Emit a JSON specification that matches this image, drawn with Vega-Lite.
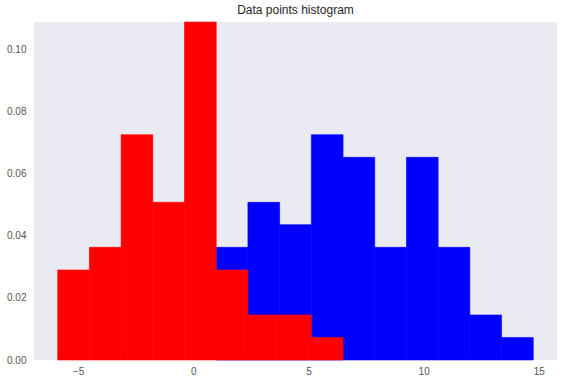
{
  "$schema": "https://vega.github.io/schema/vega-lite/v6.json",
  "width": 523,
  "height": 338,
  "autosize": {"type": "none"},
  "padding": {"left": 34, "top": 22, "right": 7, "bottom": 24},
  "background": "white",
  "title": {"text": "Data points histogram", "fontSize": 12, "font": "Liberation Sans", "fontWeight": "normal", "color": "#262626", "offset": 5, "anchor": "middle"},
  "config": {
    "view": {"stroke": null, "fill": "#EAEAF2"},
    "axis": {"domain": false, "ticks": false, "grid": false, "labelFont": "Liberation Sans", "labelFontSize": 10, "labelColor": "#555555", "title": null}
  },
  "data": {"values": [
    {"series": "blue", "bin_start": 0.993, "bin_end": 2.369, "density": 0.0363},
    {"series": "blue", "bin_start": 2.369, "bin_end": 3.746, "density": 0.0508},
    {"series": "blue", "bin_start": 3.746, "bin_end": 5.123, "density": 0.0436},
    {"series": "blue", "bin_start": 5.123, "bin_end": 6.5, "density": 0.0726},
    {"series": "blue", "bin_start": 6.5, "bin_end": 7.876, "density": 0.0653},
    {"series": "blue", "bin_start": 7.876, "bin_end": 9.253, "density": 0.0363},
    {"series": "blue", "bin_start": 9.253, "bin_end": 10.63, "density": 0.0653},
    {"series": "blue", "bin_start": 10.63, "bin_end": 12.006, "density": 0.0363},
    {"series": "blue", "bin_start": 12.006, "bin_end": 13.383, "density": 0.0145},
    {"series": "blue", "bin_start": 13.383, "bin_end": 14.76, "density": 0.00726},
    {"series": "red", "bin_start": -5.891, "bin_end": -4.514, "density": 0.029},
    {"series": "red", "bin_start": -4.514, "bin_end": -3.138, "density": 0.0363},
    {"series": "red", "bin_start": -3.138, "bin_end": -1.761, "density": 0.0726},
    {"series": "red", "bin_start": -1.761, "bin_end": -0.384, "density": 0.0508},
    {"series": "red", "bin_start": -0.384, "bin_end": 0.993, "density": 0.1089},
    {"series": "red", "bin_start": 0.993, "bin_end": 2.369, "density": 0.029},
    {"series": "red", "bin_start": 2.369, "bin_end": 3.746, "density": 0.0145},
    {"series": "red", "bin_start": 3.746, "bin_end": 5.123, "density": 0.0145},
    {"series": "red", "bin_start": 5.123, "bin_end": 6.5, "density": 0.00726}
  ]},
  "mark": {"type": "rect", "opacity": 1, "strokeWidth": 0.6},
  "encoding": {
    "x": {"field": "bin_start", "type": "quantitative", "scale": {"domain": [-6.92, 15.79], "nice": false, "zero": false}, "axis": {"values": [-5, 0, 5, 10, 15], "labelPadding": 6}},
    "x2": {"field": "bin_end"},
    "y": {"field": "density", "type": "quantitative", "scale": {"domain": [0, 0.1089], "nice": false}, "axis": {"values": [0, 0.02, 0.04, 0.06, 0.08, 0.1], "format": ".2f", "labelPadding": 8}},
    "y2": {"datum": 0},
    "color": {"field": "series", "type": "nominal", "scale": {"domain": ["blue", "red"], "range": ["#0000ff", "#ff0000"]}, "legend": null},
    "stroke": {"field": "series", "type": "nominal", "scale": {"domain": ["blue", "red"], "range": ["#0000ff", "#ff0000"]}, "legend": null}
  }
}
